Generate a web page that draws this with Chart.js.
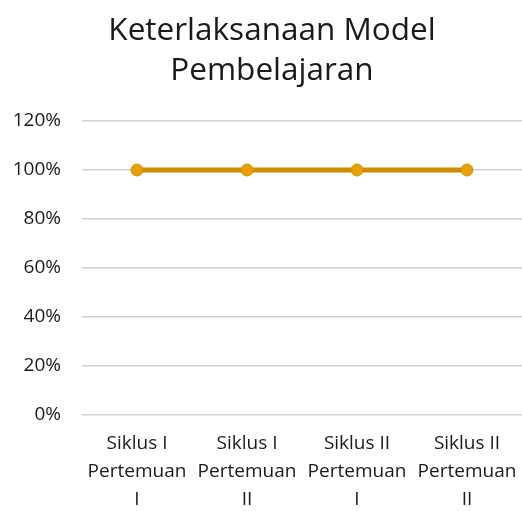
<!DOCTYPE html>
<html>
<head>
<meta charset="utf-8">
<script src="https://cdn.jsdelivr.net/npm/chart.js@4.4.0/dist/chart.umd.min.js"></script>
<style>
  html, body { margin: 0; padding: 0; background: #fff; }
  #chartId { display: block; }
</style>
</head>
<body>
<canvas id="chartId" width="522" height="511"></canvas>
<script>
var categories = [
    ["Siklus I", "Pertemuan", "I"],
    ["Siklus I", "Pertemuan", "II"],
    ["Siklus II", "Pertemuan", "I"],
    ["Siklus II", "Pertemuan", "II"]
];
var keterlaksanaan = [100, 100, 100, 100];
var titleLines = ["Keterlaksanaan Model", "Pembelajaran"];

var fontName = "'Open Sans', 'Noto Sans', sans-serif";

// title in the original sits a little right of the page centre
var shiftTitle = {
    id: 'shiftTitle',
    afterLayout: function(chart) {
        if (chart.titleBlock) {
            chart.titleBlock.left += 11;
            chart.titleBlock.right += 11;
        }
    }
};

var chart = document.getElementById("chartId").getContext("2d");
var chartId = new Chart(chart, {
    type: 'line',
    data: {
        labels: categories,
        datasets: [{
            data: keterlaksanaan,
            borderColor: '#D08C00',
            backgroundColor: '#E6A000',
            pointBackgroundColor: '#E6A000',
            pointBorderColor: '#D49200',
            pointBorderWidth: 1,
            pointRadius: 6,
            borderWidth: 5,
            tension: 0
        }]
    },
    plugins: [shiftTitle],
    options: {
        responsive: false,
        animation: false,
        layout: {
            autoPadding: false,
            padding: { left: 0, right: 0, top: 11, bottom: 0 }
        },
        plugins: {
            legend: { display: false },
            tooltip: { enabled: false },
            title: {
                display: true,
                text: titleLines,
                color: '#1a1a1a',
                font: { family: fontName, size: 31.5, weight: 'normal', lineHeight: 1.27 },
                padding: { top: 0, bottom: 30 }
            }
        },
        scales: {
            x: {
                offset: true,
                grid: { display: false, drawTicks: false },
                border: { display: false },
                afterFit: function(scale) {
                    scale.height = 96;
                    scale.paddingLeft = 0;
                    scale.paddingRight = 0;
                },
                ticks: {
                    color: '#1a1a1a',
                    font: { family: fontName, size: 19, lineHeight: 1.47 },
                    padding: 15,
                    maxRotation: 0,
                    autoSkip: false
                }
            },
            y: {
                min: 0,
                max: 120,
                grid: { color: '#D0D0D0', lineWidth: 1.5, drawTicks: false },
                border: { display: false },
                afterFit: function(scale) { scale.width = 82; },
                ticks: {
                    stepSize: 20,
                    color: '#1a1a1a',
                    font: { family: fontName, size: 19 },
                    padding: 21,
                    callback: function(value) { return value + '%'; }
                }
            }
        }
    }
});
</script>
</body>
</html>
